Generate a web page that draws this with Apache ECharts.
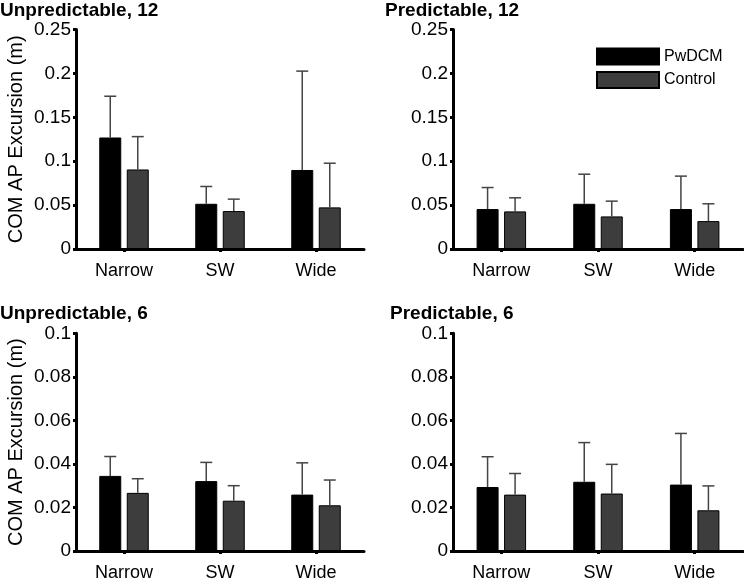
<!DOCTYPE html>
<html><head><meta charset="utf-8">
<script src="https://cdn.jsdelivr.net/npm/echarts/dist/echarts.min.js"></script>
<style>html,body{margin:0;padding:0;background:#fff}#c{width:744px;height:582px}</style>
</head><body><div id="c"></div>
<script>
const categories = ['Narrow', 'SW', 'Wide'];
const seriesNames = ['PwDCM', 'Control'];
const panelTitles = ['Unpredictable, 12', 'Predictable, 12', 'Unpredictable, 6', 'Predictable, 6'];
const yMax = [0.25, 0.25, 0.1, 0.1];
const yInterval = [0.05, 0.05, 0.02, 0.02];
const yName = 'COM AP Excursion (m)';

// means
const unpred12Pw = [0.127, 0.0515, 0.090];
const unpred12Ctl = [0.0906, 0.0432, 0.0474];
const pred12Pw = [0.0455, 0.0515, 0.0455];
const pred12Ctl = [0.0428, 0.0371, 0.0318];
const unpred6Pw = [0.0345, 0.0321, 0.0259];
const unpred6Ctl = [0.0267, 0.0231, 0.0210];
const pred6Pw = [0.0294, 0.0318, 0.0305];
const pred6Ctl = [0.0259, 0.0264, 0.0187];
// standard deviations (upper error bars)
const unpred12PwSD = [0.047, 0.0197, 0.1126];
const unpred12CtlSD = [0.0374, 0.0136, 0.0503];
const pred12PwSD = [0.0245, 0.0337, 0.0375];
const pred12CtlSD = [0.0155, 0.0174, 0.0197];
const unpred6PwSD = [0.0089, 0.0086, 0.0146];
const unpred6CtlSD = [0.0065, 0.0069, 0.0116];
const pred6PwSD = [0.0139, 0.0180, 0.0235];
const pred6CtlSD = [0.0097, 0.0134, 0.0112];

const panels = [
  [unpred12Pw, unpred12Ctl, unpred12PwSD, unpred12CtlSD],
  [pred12Pw, pred12Ctl, pred12PwSD, pred12CtlSD],
  [unpred6Pw, unpred6Ctl, unpred6PwSD, unpred6CtlSD],
  [pred6Pw, pred6Ctl, pred6PwSD, pred6CtlSD]
];

const FONT = "'Liberation Sans', Arial, Helvetica, sans-serif";
const colors = ['#000000', '#3d3d3d'];
const BAR_W = 22, GAP = 5.5;
const offsets = [-(BAR_W + GAP) / 2, (BAR_W + GAP) / 2];

const grids = [
  {left: 76, top: 29.5, width: 288, height: 219.5},
  {left: 453, top: 29.5, width: 290, height: 219.5},
  {left: 76, top: 333.3, width: 288, height: 221},
  {left: 453, top: 333.3, width: 290, height: 221}
];
const titlePos = [{left: 0, top: 1}, {left: 385, top: 1}, {left: 0, top: 304}, {left: 390, top: 304}];

function errRender(offset) {
  return function (params, api) {
    const cat = api.value(0), mean = api.value(1), sd = api.value(2);
    const base = api.coord([cat, mean]);
    const top = api.coord([cat, mean + sd]);
    const x = base[0] + offset;
    const st = {stroke: '#444', lineWidth: 1.5};
    return {type: 'group', children: [
      {type: 'line', shape: {x1: x, y1: base[1], x2: x, y2: top[1]}, style: st},
      {type: 'line', shape: {x1: x - 6, y1: top[1], x2: x + 6, y2: top[1]}, style: st}
    ]};
  };
}

const xAxes = [], yAxes = [], series = [], titles = [];
panels.forEach((p, i) => {
  titles.push({text: panelTitles[i], left: titlePos[i].left, top: titlePos[i].top, padding: 0,
    textStyle: {fontFamily: FONT, fontSize: 19, fontWeight: 'bold', color: '#000'}});
  xAxes.push({type: 'category', gridIndex: i, data: categories,
    axisLine: {lineStyle: {color: '#000', width: 3}},
    axisTick: {show: true, alignWithLabel: true, length: 3, lineStyle: {color: '#000', width: 3}},
    axisLabel: {fontFamily: FONT, fontSize: 18, color: '#000', margin: 13}});
  yAxes.push({type: 'value', gridIndex: i, min: 0, max: yMax[i], interval: yInterval[i],
    name: (i % 2 === 0) ? yName : '', nameLocation: 'middle', nameRotate: 90, nameGap: 50,
    nameTextStyle: {fontFamily: FONT, fontSize: 20, color: '#000'},
    axisLine: {show: true, lineStyle: {color: '#000', width: 3}},
    axisTick: {show: true, length: 3, lineStyle: {color: '#000', width: 3}},
    splitLine: {show: false},
    axisLabel: {fontFamily: FONT, fontSize: 19, color: '#000', margin: 5}});
  [0, 1].forEach(s => {
    series.push({type: 'bar', name: seriesNames[s], xAxisIndex: i, yAxisIndex: i,
      data: p[s], barWidth: BAR_W, barGap: (GAP / BAR_W * 100) + '%',
      itemStyle: {color: colors[s], borderColor: '#000', borderWidth: 1},
      emphasis: {disabled: true}, z: 2});
  });
  [0, 1].forEach(s => {
    series.push({type: 'custom', xAxisIndex: i, yAxisIndex: i,
      data: p[s].map((v, k) => [k, v, p[s + 2][k]]),
      encode: {x: 0, y: 1}, renderItem: errRender(offsets[s]), z: 3, silent: true});
  });
});

const chart = echarts.init(document.getElementById('c'), null, {renderer: 'canvas'});
chart.setOption({
  animation: false,
  backgroundColor: '#fff',
  title: titles,
  grid: grids,
  xAxis: xAxes,
  yAxis: yAxes,
  legend: {data: seriesNames, orient: 'vertical', left: 596, top: 47.5, itemWidth: 62, itemHeight: 16,
    itemGap: 5.5, padding: 0, icon: 'rect',
    textStyle: {fontFamily: FONT, fontSize: 16, color: '#000'}},
  series: series
});
</script></body></html>
